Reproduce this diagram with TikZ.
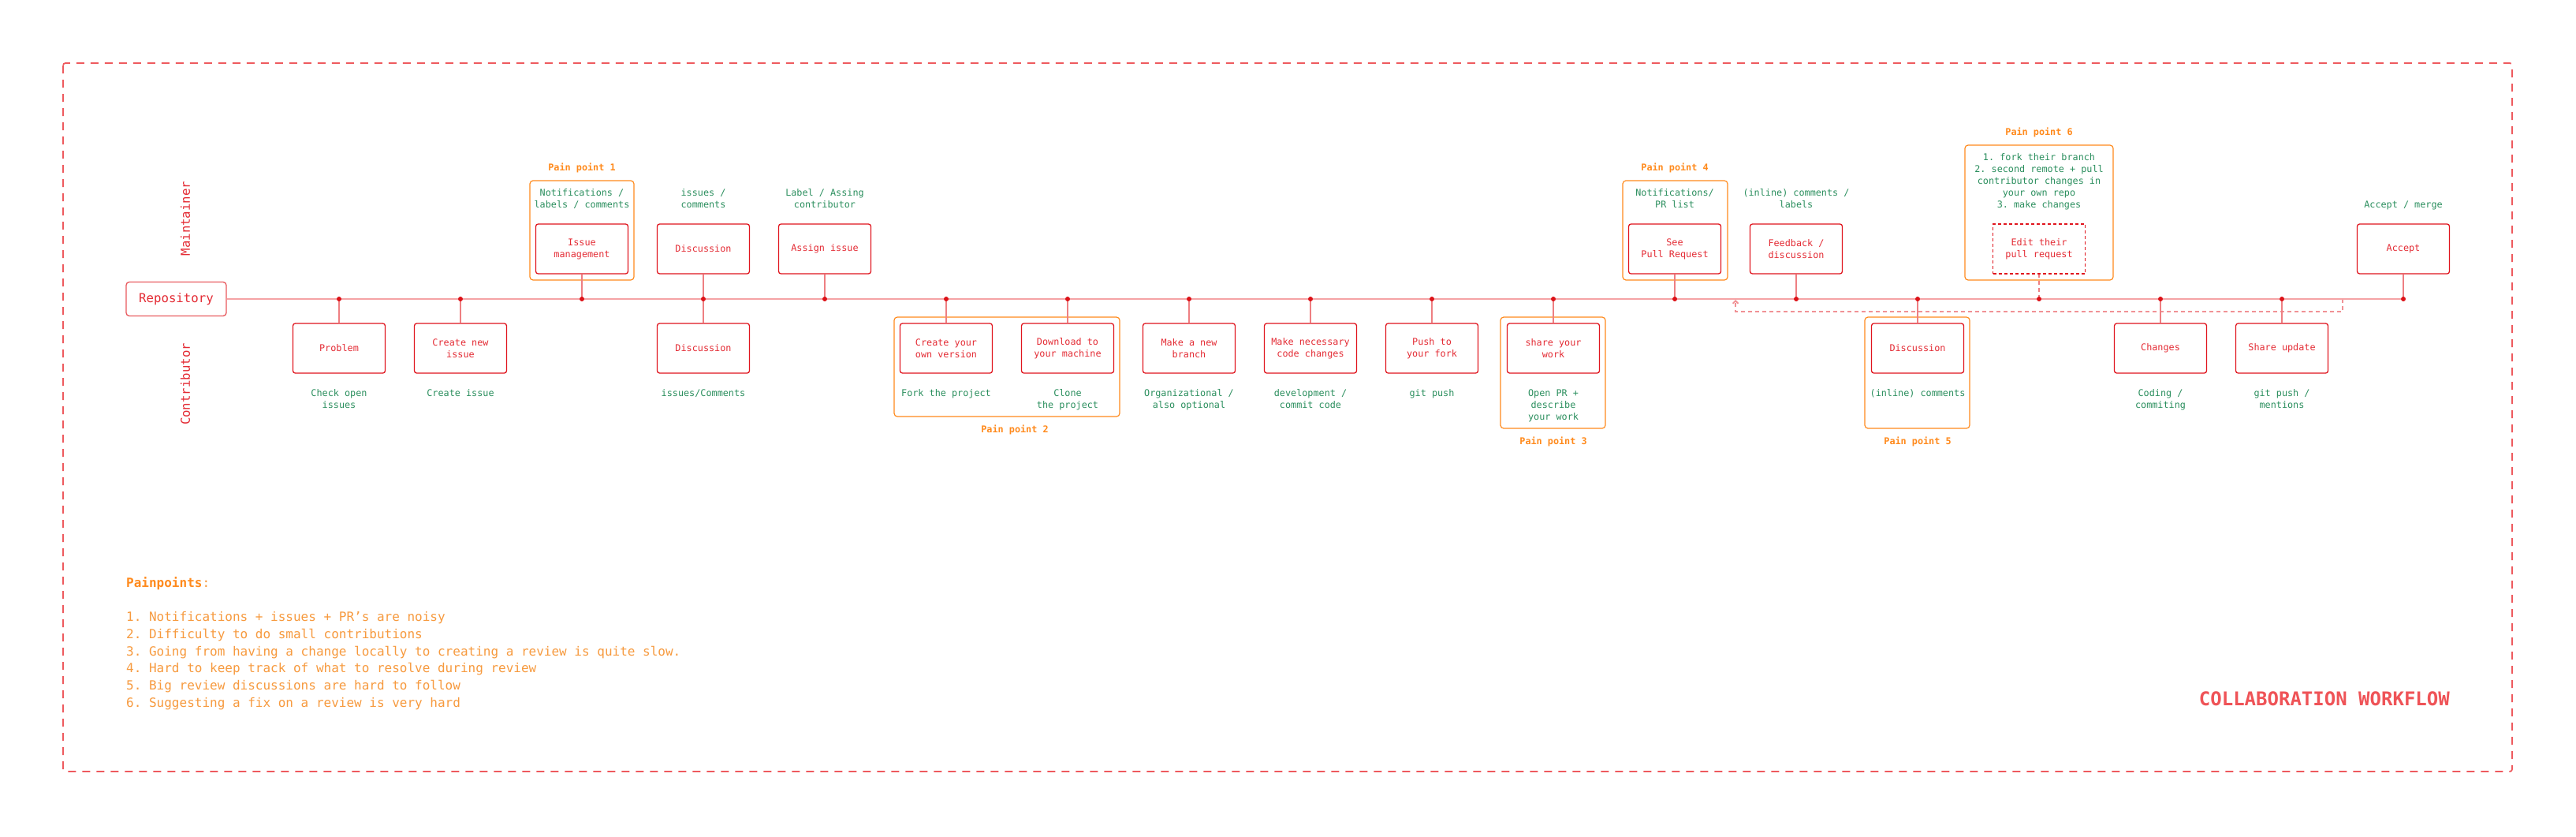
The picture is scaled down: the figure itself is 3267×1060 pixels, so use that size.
\documentclass[tikz,border=0pt]{standalone}
\usepackage{fontspec}
\setmonofont{DejaVu Sans Mono}
\usetikzlibrary{arrows.meta}
\definecolor{boxred}{HTML}{E0151E}
\definecolor{txtred}{HTML}{E42C35}
\definecolor{repored}{HTML}{E8585D}
\definecolor{linepink}{HTML}{F5A3A5}
\definecolor{conred}{HTML}{EE7F82}
\definecolor{dotred}{HTML}{DC1218}
\definecolor{lblgreen}{HTML}{2B8F5E}
\definecolor{ppor}{HTML}{FF8A1C}
\definecolor{listor}{HTML}{F79A3E}
\definecolor{framered}{HTML}{EE5A5E}
\definecolor{titlered}{HTML}{EF5357}
\tikzset{
  smallfont/.style={font=\ttfamily\fontsize{11.8}{15}\selectfont},
  stepbox/.style={smallfont, draw=boxred, line width=1.3pt, rounded corners=3pt,
    minimum width=117pt, minimum height=63pt, inner sep=0pt, align=center, text=txtred, fill=white},
  dashbox/.style={stepbox, dash pattern=on 4pt off 3pt, rounded corners=0pt},
  repobox/.style={font=\ttfamily\fontsize{15.7}{19}\selectfont, draw=repored, line width=1.3pt,
    rounded corners=4pt, minimum width=127pt, minimum height=43pt, inner sep=0pt, text=txtred},
  lanelbl/.style={font=\ttfamily\fontsize{15.7}{19}\selectfont, text=txtred, rotate=90, inner sep=0pt},
  grn/.style={smallfont, text=lblgreen, align=center, inner sep=0pt},
  pplbl/.style={font=\ttfamily\bfseries\fontsize{11.8}{15}\selectfont, text=ppor, inner sep=0pt},
  ppframe/.style={draw=ppor, line width=1.2pt, rounded corners=4pt},
  timeline/.style={draw=linepink, line width=2pt},
  conn/.style={draw=conred, line width=2pt},
  dashconn/.style={draw=conred, line width=2pt, dash pattern=on 5pt off 4pt},
  backloop/.style={draw=conred!85, line width=1.8pt, dash pattern=on 5pt off 4pt},
  dotst/.style={fill=dotred},
  frame/.style={draw=framered, line width=1.8pt, dash pattern=on 10pt off 8pt, rounded corners=3pt},
}
\begin{document}
\begin{tikzpicture}[x=1pt,y=-1pt]
\useasboundingbox (0,0) rectangle (3267,1060);
\fill[white] (0,0) rectangle (3267,1060);
\draw[frame] (80,80) rectangle (3186,978);

% pain point frames
\draw[ppframe] (672,229) rectangle (804,355);
\draw[ppframe] (1134,402) rectangle (1420,528);
\draw[ppframe] (1903,402) rectangle (2036,543);
\draw[ppframe] (2058,229) rectangle (2191,355);
\draw[ppframe] (2365,402) rectangle (2498,543);
\draw[ppframe] (2492,184) rectangle (2680,355);

\node[pplbl] (pp1) at (738,213) {Pain point 1};
\node[pplbl] (pp2) at (1287,545) {Pain point 2};
\node[pplbl] (pp3) at (1970,560) {Pain point 3};
\node[pplbl] (pp4) at (2124,213) {Pain point 4};
\node[pplbl] (pp5) at (2432,560) {Pain point 5};
\node[pplbl] (pp6) at (2586,168) {Pain point 6};

% lane labels
\node[lanelbl] (mnt) at (235,277) {Maintainer};
\node[lanelbl] (ctb) at (235,487) {Contributor};

% dots
\coordinate (d1) at (430,379);
\coordinate (d2) at (584,379);
\coordinate (d3) at (738,379);
\coordinate (d4) at (892,379);
\coordinate (d5) at (1046,379);
\coordinate (d6) at (1200,379);
\coordinate (d7) at (1354,379);
\coordinate (d8) at (1508,379);
\coordinate (d9) at (1662,379);
\coordinate (d10) at (1816,379);
\coordinate (d11) at (1970,379);
\coordinate (d12) at (2124,379);
\coordinate (d13) at (2278,379);
\coordinate (d14) at (2432,379);
\coordinate (d15) at (2586,379);
\coordinate (d16) at (2740,379);
\coordinate (d17) at (2894,379);
\coordinate (d18) at (3048,379);

\node[repobox] (repo) at (223.5,379) {Repository};

% back loop
\coordinate (lpR) at (2971,379);
\coordinate (lpL) at (2201,380);
\draw[backloop, -{Straight Barb[length=3.5pt,width=7pt]}] (lpR) -- ++(0,16) -| (lpL);

\draw[timeline] (repo.east) -- (d18);

% upper boxes
\node[stepbox] (bIssue) at (738,315.5) {Issue\\management};
\node[stepbox] (bDiscU) at (892,315.5) {Discussion};
\node[stepbox] (bAssign) at (1046,315.5) {Assign issue};
\node[stepbox] (bSeePR) at (2124,315.5) {See\\Pull Request};
\node[stepbox] (bFeed) at (2278,315.5) {Feedback /\\discussion};
\node[dashbox] (bEdit) at (2586,315.5) {Edit their\\pull request};
\node[stepbox] (bAccept) at (3048,315.5) {Accept};

% lower boxes
\node[stepbox] (bProblem) at (430,441.5) {Problem};
\node[stepbox] (bNewIssue) at (584,441.5) {Create new\\issue};
\node[stepbox] (bDiscL) at (892,441.5) {Discussion};
\node[stepbox] (bFork) at (1200,441.5) {Create your\\own version};
\node[stepbox] (bClone) at (1354,441.5) {Download to\\your machine};
\node[stepbox] (bBranch) at (1508,441.5) {Make a new\\branch};
\node[stepbox] (bCode) at (1662,441.5) {Make necessary\\code changes};
\node[stepbox] (bPush) at (1816,441.5) {Push to\\your fork};
\node[stepbox] (bShare) at (1970,441.5) {share your\\work};
\node[stepbox] (bDisc5) at (2432,441.5) {Discussion};
\node[stepbox] (bChanges) at (2740,441.5) {Changes};
\node[stepbox] (bUpdate) at (2894,441.5) {Share update};

% connectors
\draw[conn] (d1) -- (bProblem.north);
\draw[conn] (d2) -- (bNewIssue.north);
\draw[conn] (d3) -- (bIssue.south);
\draw[conn] (bDiscU.south) -- (bDiscL.north);
\draw[conn] (d5) -- (bAssign.south);
\draw[conn] (d6) -- (bFork.north);
\draw[conn] (d7) -- (bClone.north);
\draw[conn] (d8) -- (bBranch.north);
\draw[conn] (d9) -- (bCode.north);
\draw[conn] (d10) -- (bPush.north);
\draw[conn] (d11) -- (bShare.north);
\draw[conn] (d12) -- (bSeePR.south);
\draw[conn] (d13) -- (bFeed.south);
\draw[conn] (d14) -- (bDisc5.north);
\draw[dashconn] (d15) -- (bEdit.south);
\draw[conn] (d16) -- (bChanges.north);
\draw[conn] (d17) -- (bUpdate.north);
\draw[conn] (d18) -- (bAccept.south);

\foreach \d in {d1,d2,d3,d4,d5,d6,d7,d8,d9,d10,d11,d12,d13,d14,d15,d16,d17,d18}
  \fill[dotst] (\d) circle (3pt);

% upper green labels
\node[grn, anchor=south] (lIssue) at (738,268.5) {Notifications /\\labels / comments\strut};
\node[grn, anchor=south] (lDiscU) at (892,268.5) {issues /\\comments\strut};
\node[grn, anchor=south] (lAssign) at (1046,268.5) {Label / Assing\\contributor\strut};
\node[grn, anchor=south] (lSeePR) at (2124,268.5) {Notifications/\\PR list\strut};
\node[grn, anchor=south] (lFeed) at (2278,268.5) {(inline) comments /\\labels\strut};
\node[grn, anchor=south] (lEdit) at (2586,268.5) {1. fork their branch\\2. second remote + pull\\contributor changes in\\your own repo\\3. make changes\strut};
\node[grn, anchor=south] (lAccept) at (3048,268.5) {Accept / merge\strut};

% lower green labels
\node[grn, anchor=north] (lProblem) at (430,491.5) {\strut Check open\\issues};
\node[grn, anchor=north] (lNewIssue) at (584,491.5) {\strut Create issue};
\node[grn, anchor=north] (lDiscL) at (892,491.5) {\strut issues/Comments};
\node[grn, anchor=north] (lFork) at (1200,491.5) {\strut Fork the project};
\node[grn, anchor=north] (lClone) at (1354,491.5) {\strut Clone\\the project};
\node[grn, anchor=north] (lBranch) at (1508,491.5) {\strut Organizational /\\also optional};
\node[grn, anchor=north] (lCode) at (1662,491.5) {\strut development /\\commit code};
\node[grn, anchor=north] (lPush) at (1816,491.5) {\strut git push};
\node[grn, anchor=north] (lShare) at (1970,491.5) {\strut Open PR +\\describe\\your work};
\node[grn, anchor=north] (lDisc5) at (2432,491.5) {\strut (inline) comments};
\node[grn, anchor=north] (lChanges) at (2740,491.5) {\strut Coding /\\commiting};
\node[grn, anchor=north] (lUpdate) at (2894,491.5) {\strut git push /\\mentions};

% pain point list
\node[anchor=north west, align=left, inner sep=0pt, text=listor,
  font=\ttfamily\fontsize{16}{21.7}\selectfont] (plist) at (160,729)
  {\strut\textbf{\color{ppor}Painpoints}:\\[21.7pt]
   1. Notifications + issues + PR’s are noisy\\
   2. Difficulty to do small contributions\\
   3. Going from having a change locally to creating a review is quite slow.\\
   4. Hard to keep track of what to resolve during review\\
   5. Big review discussions are hard to follow\\
   6. Suggesting a fix on a review is very hard};

\node[anchor=east, inner sep=0pt, text=titlered, font=\ttfamily\bfseries\fontsize{24}{28}\selectfont]
  (title) at (3107,886) {COLLABORATION WORKFLOW};
\end{tikzpicture}
\end{document}
